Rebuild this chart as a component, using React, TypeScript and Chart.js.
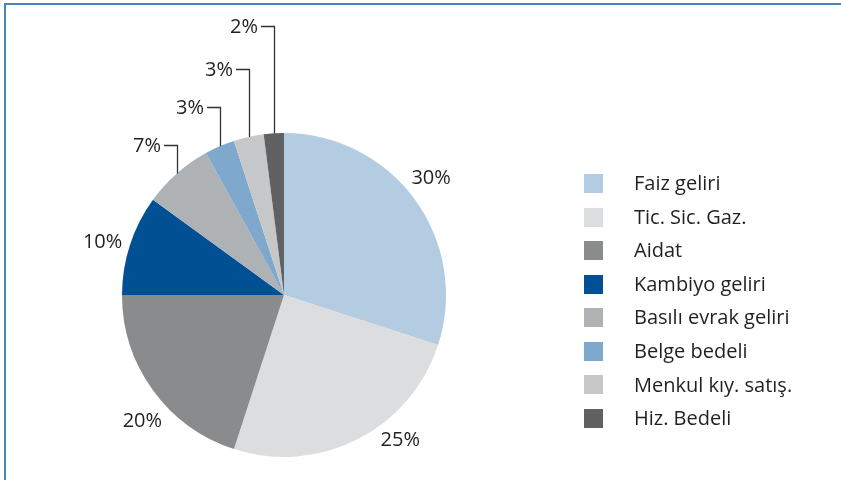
import React, { useEffect, useRef } from "react";
import { Chart, registerables } from "chart.js";

Chart.register(...registerables);

// ---- data ----
const categories = [
  "Faiz geliri",
  "Tic. Sic. Gaz.",
  "Aidat",
  "Kambiyo geliri",
  "Basılı evrak geliri",
  "Belge bedeli",
  "Menkul kıy. satış.",
  "Hiz. Bedeli",
];
const shares = [30, 25, 20, 10, 7, 3, 3, 2];

// ---- styles / layout ----
const colors = [
  "#b4cce2",
  "#dcdddf",
  "#8a8b8d",
  "#005093",
  "#afb2b5",
  "#7ea8cc",
  "#c6c7c9",
  "#606163",
];
const FONT = '20px "Open Sans", "DejaVu Sans", sans-serif';
const TEXT = "#231f20";
// labels drawn directly beside the slice (angle nudge in degrees, distance from centre)
const directLabelNudge = [-2.5, -11.7, -5.8, -1.7];
const directLabelDist = [188, 186, 190, 189];
// labels with leader lines: elbow heights (canvas y)
const leaderElbowY = [145, 107, 69, 26];

const labelsPlugin = {
  id: "customLabels",
  afterDraw(chart: any) {
    const ctx = chart.ctx as CanvasRenderingContext2D;
    const meta = chart.getDatasetMeta(0);
    const data = chart.data.datasets[0].data as number[];
    const total = data.reduce((a, b) => a + b, 0);
    ctx.save();
    // frame lines
    ctx.fillStyle = "#4a86b8";
    ctx.fillRect(4, 3, chart.width - 4, 2);
    ctx.fillRect(4, 3, 2, chart.height - 3);

    ctx.font = FONT;
    ctx.fillStyle = TEXT;
    ctx.strokeStyle = "#333333";
    ctx.lineWidth = 1.3;
    meta.data.forEach((arc: any, i: number) => {
      const { x, y, startAngle, endAngle, outerRadius } = arc.getProps(
        ["x", "y", "startAngle", "endAngle", "outerRadius"],
        true
      );
      const mid = (startAngle + endAngle) / 2;
      const txt = Math.round((data[i] / total) * 100) + "%";
      if (i < directLabelNudge.length) {
        const a = mid + (directLabelNudge[i] * Math.PI) / 180;
        const d = directLabelDist[i];
        ctx.textAlign = "center";
        ctx.textBaseline = "middle";
        ctx.fillText(txt, x + d * Math.cos(a), y + d * Math.sin(a));
      } else {
        const k = i - directLabelNudge.length;
        const ex = x + outerRadius * Math.cos(mid);
        const ey = y + outerRadius * Math.sin(mid);
        const elbow = leaderElbowY[k];
        ctx.beginPath();
        ctx.moveTo(Math.round(ex) + 0.5, ey);
        ctx.lineTo(Math.round(ex) + 0.5, elbow + 0.5);
        ctx.lineTo(Math.round(ex) - 13, elbow + 0.5);
        ctx.stroke();
        ctx.textAlign = "right";
        ctx.textBaseline = "middle";
        ctx.fillText(txt, Math.round(ex) - 16, elbow + 1);
      }
    });

    // legend
    const lx = 584;
    const ly0 = 183.5;
    const step = 33.57;
    chart.data.labels.forEach((lab: string, i: number) => {
      const cy = ly0 + i * step;
      ctx.fillStyle = (chart.data.datasets[0].backgroundColor as string[])[i];
      ctx.fillRect(lx, Math.round(cy - 9.5), 19, 19);
      ctx.fillStyle = TEXT;
      ctx.textAlign = "left";
      ctx.textBaseline = "middle";
      ctx.fillText(lab, 634, cy + 1);
    });
    ctx.restore();
  },
};

export default function App() {
  const ref = useRef<HTMLCanvasElement>(null);
  useEffect(() => {
    if (!ref.current) return;
    const chart = new Chart(ref.current, {
      type: "pie",
      data: {
        labels: categories,
        datasets: [
          {
            data: shares,
            backgroundColor: colors,
            borderWidth: 0,
          },
        ],
      },
      options: {
        animation: false,
        responsive: false,
        devicePixelRatio: 1,
        layout: { padding: { left: 122, right: 395, top: 133, bottom: 23 } },
        plugins: {
          legend: { display: false },
          tooltip: { enabled: false },
        },
        events: [],
      },
      plugins: [labelsPlugin],
    });
    return () => chart.destroy();
  }, []);
  return (
    <div style={{ position: "absolute", left: 0, top: 0, width: 841, height: 480, background: "#fff" }}>
      <canvas ref={ref} width={841} height={480} style={{ display: "block" }} />
    </div>
  );
}
